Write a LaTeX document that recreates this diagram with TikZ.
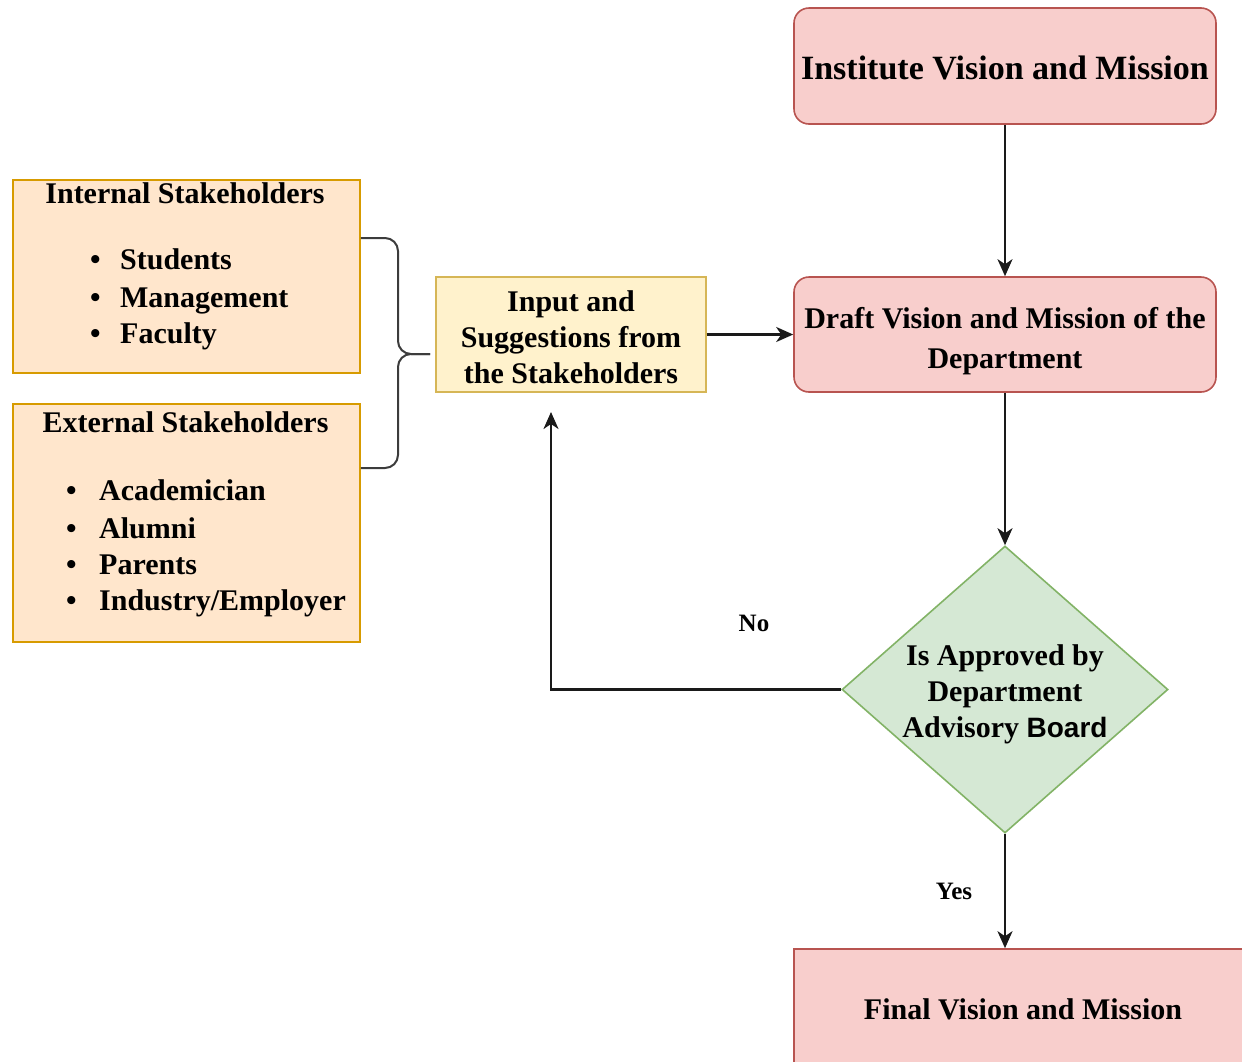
\documentclass[tikz,border=0pt]{standalone}
\usepackage{fontspec}
\setmainfont{Liberation Serif}
\newfontfamily\sansbold{Liberation Sans}
\usetikzlibrary{shapes.geometric,arrows.meta}
\definecolor{pinkfill}{HTML}{F8CECC}
\definecolor{pinkline}{HTML}{B85450}
\definecolor{yelfill}{HTML}{FFF2CC}
\definecolor{yelline}{HTML}{D6B656}
\definecolor{orfill}{HTML}{FFE6CC}
\definecolor{orline}{HTML}{D79B00}
\definecolor{grfill}{HTML}{D5E8D4}
\definecolor{grline}{HTML}{82B366}
\definecolor{conn}{HTML}{1A1A1A}
\tikzset{
  boxbase/.style={draw, line width=1.6pt, inner sep=0pt, align=center,
    font=\fontsize{30}{36}\selectfont\bfseries},
  pinkbox/.style={boxbase, fill=pinkfill, draw=pinkline},
  yelbox/.style={boxbase, fill=yelfill, draw=yelline},
  orbox/.style={boxbase, fill=orfill, draw=orline},
  decbox/.style={draw=grline, fill=grfill, line width=1.6pt, diamond, inner sep=0pt},
  txt/.style={inner sep=0pt, align=center, font=\fontsize{30}{36}\selectfont\bfseries},
  itemtxt/.style={inner sep=0pt, anchor=base west, font=\fontsize{30}{36}\selectfont\bfseries},
  headtxt/.style={inner sep=0pt, anchor=base, font=\fontsize{30}{36}\selectfont\bfseries},
  lbl/.style={inner sep=0pt, font=\fontsize{25}{30}\selectfont\bfseries},
  arr/.style={draw=conn, line width=2.2pt, -{Stealth[length=17pt,width=15pt,inset=5pt]}},
  bracepath/.style={draw=conn!85, line width=2pt, rounded corners=13pt},
}
\begin{document}
\begin{tikzpicture}[x=1pt,y=-1pt]
\useasboundingbox (0,0) rectangle (1242,1061);
\clip (0,0) rectangle (1242,1061);

% main flow boxes
\node[pinkbox, rounded corners=15pt, minimum width=422pt, minimum height=116pt] (inst) at (1005,66) {};
\node[txt, font=\fontsize{34}{40}\selectfont\bfseries] (insttxt) at (1005,68) {Institute Vision and Mission};
\node[pinkbox, rounded corners=15pt, minimum width=422pt, minimum height=115pt] (draft) at (1005,334.5) {};
\node[txt, font=\fontsize{30}{40}\selectfont\bfseries] (drafttxt) at (1005,341) {Draft Vision and Mission of the\\Department};
\node[yelbox, minimum width=270pt, minimum height=115pt] (input) at (571,334.5) {};
\node[txt] (inputtxt) at (571,337) {Input and\\Suggestions from\\the Stakeholders};
\node[decbox, minimum width=326pt, minimum height=287pt] (dec) at (1005,689.5) {};
\node[txt] (dectxt) at (1005,694) {Is Approved by\\Department\\Advisory {\fontsize{28}{36}\sansbold\bfseries Board}};
\node[pinkbox, minimum width=458pt, minimum height=118pt] (final) at (1023,1008) {};
\node[txt] (finaltxt) at (1023,1009) {Final Vision and Mission};

% stakeholder boxes
\node[orbox, minimum width=347pt, minimum height=193pt] (internal) at (186.5,276.5) {};
\node[orbox, minimum width=347pt, minimum height=238pt] (external) at (186.5,523) {};

\node[headtxt] (inthead) at (185,203) {Internal Stakeholders};
\node[itemtxt] (i1) at (90,269) {\makebox[30pt][l]{•}Students};
\node[itemtxt] (i2) at (90,307) {\makebox[30pt][l]{•}Management};
\node[itemtxt] (i3) at (90,343) {\makebox[30pt][l]{•}Faculty};

\node[headtxt] (exthead) at (185.5,432) {External Stakeholders};
\node[itemtxt] (e1) at (66,500) {\makebox[33pt][l]{•}Academician};
\node[itemtxt] (e2) at (66,538) {\makebox[33pt][l]{•}Alumni};
\node[itemtxt] (e3) at (66,574) {\makebox[33pt][l]{•}Parents};
\node[itemtxt] (e4) at (66,610) {\makebox[33pt][l]{•}Industry/Employer};

% brace joining the two stakeholder boxes
\coordinate (bt) at (internal.east |- 0,238);
\coordinate (bb) at (external.east |- 0,468);
\coordinate (bmid) at (398,354);
\coordinate (btip) at (430,354);
\draw[bracepath] (bt) -| (bmid) -- (btip);
\draw[bracepath] (bb) -| (bmid) -- (btip);

% connectors
\coordinate (noend) at (551,412);
\draw[arr] (inst.south) -- (draft.north);
\draw[arr] (input.east) -- (draft.west);
\draw[arr] (draft.south) -- (dec.north);
\draw[arr] (dec.south) -- (dec.south |- final.north);
\draw[arr] (dec.west) -| (noend);

\node[lbl] (nolbl) at (754,623) {No};
\node[lbl] (yeslbl) at (954,891) {Yes};
\end{tikzpicture}
\end{document}
